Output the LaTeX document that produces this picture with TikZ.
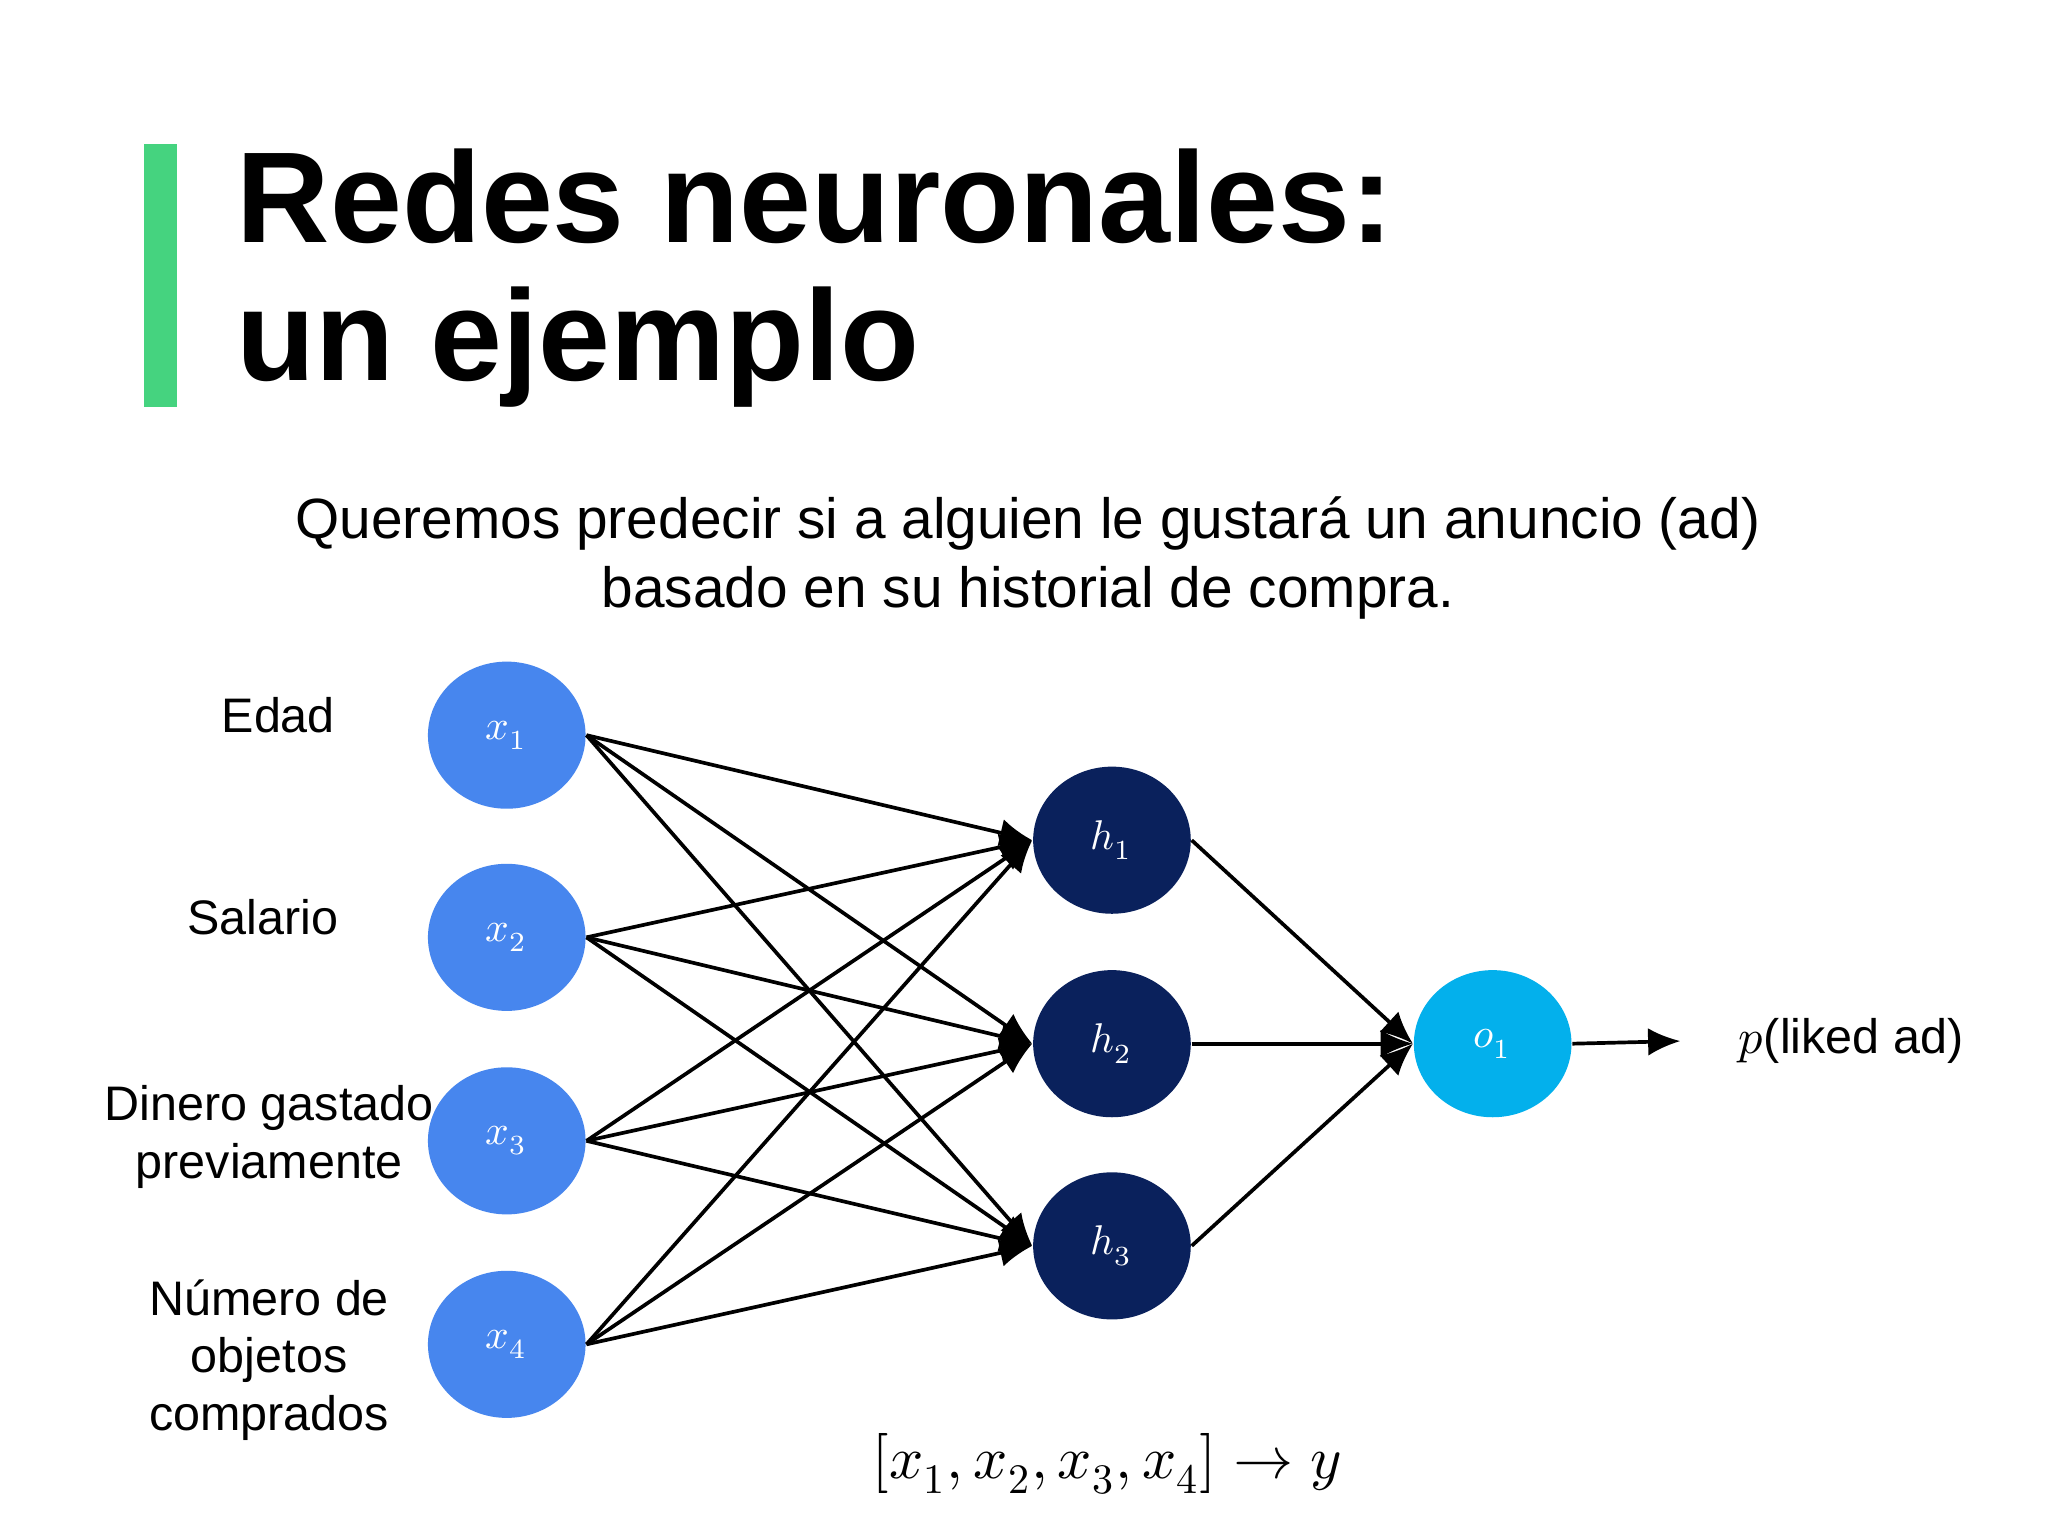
\documentclass[tikz,border=0pt]{standalone}
\usepackage{fontspec}
\setmainfont{Liberation Sans}
\usepackage{unicode-math}
\setmathfont{Latin Modern Math}
\usetikzlibrary{arrows.meta,shapes.geometric}
\definecolor{inC}{HTML}{4786EE}
\definecolor{hidC}{HTML}{0A215C}
\definecolor{outC}{HTML}{03B0EC}
\definecolor{barC}{HTML}{45D37F}
\begin{document}
\begin{tikzpicture}[x=0.01cm,y=-0.01cm,
  neuron/.style={ellipse,minimum width=1.2cm,minimum height=1.12cm,inner sep=0pt,text=white,font=\fontsize{9}{10}\selectfont},
  lbl/.style={align=center,font=\fontsize{10.5}{12.5}\selectfont},
  edge/.style={line width=0.8pt,-{Latex[length=7pt,width=6pt]}},
  plain/.style={line width=0.8pt}]
\useasboundingbox (0,0) rectangle (1560,1170);
\fill[white] (0,0) rectangle (1560,1170);
\fill[barC] (110,110) rectangle (135,310);
\node[anchor=west,align=left,font=\fontsize{28}{30}\selectfont\bfseries] (title) at (168,212) {Redes neuronales:\\un ejemplo};
\node[align=center,font=\fontsize{12.3}{15}\selectfont] (sub) at (783,425) {Queremos predecir si a alguien le gustará un anuncio (ad)\\basado en su historial de compra.};
\node[neuron,fill=inC] (x1) at (386,560) {$x_1$};
\node[neuron,fill=inC] (x2) at (386,714) {$x_2$};
\node[neuron,fill=inC] (x3) at (386,869) {$x_3$};
\node[neuron,fill=inC] (x4) at (386,1024) {$x_4$};
\node[neuron,fill=hidC] (h1) at (847,640) {$h_1$};
\node[neuron,fill=hidC] (h2) at (847,795) {$h_2$};
\node[neuron,fill=hidC] (h3) at (847,949) {$h_3$};
\node[neuron,fill=outC] (o1) at (1137,795) {$o_1$};
\node[lbl] (l1) at (212,545) {Edad};
\node[lbl] (l2) at (200,699) {Salario};
\node[lbl] (l3) at (205,866) {Dinero gastado\\previamente};
\node[lbl] (l4) at (205,1036) {Número de\\objetos\\comprados};
\coordinate (out) at (1280,793);
\node[lbl,anchor=west] (p) at (1312,793) {$p$(liked ad)};
\node[font=\fontsize{13}{15}\selectfont] (f) at (843,1115) {$[x_1,x_2,x_3,x_4]\rightarrow y$};
\foreach \i in {1,2,3,4}{\foreach \j in {1,2,3}{
  \draw[edge] (x\i.east) -- (h\j.west);}}
\foreach \j in {1,2,3}{\draw[edge] (h\j.east) -- (o1.west);}
\draw[edge] (o1.east) -- (out);
\end{tikzpicture}
\end{document}
